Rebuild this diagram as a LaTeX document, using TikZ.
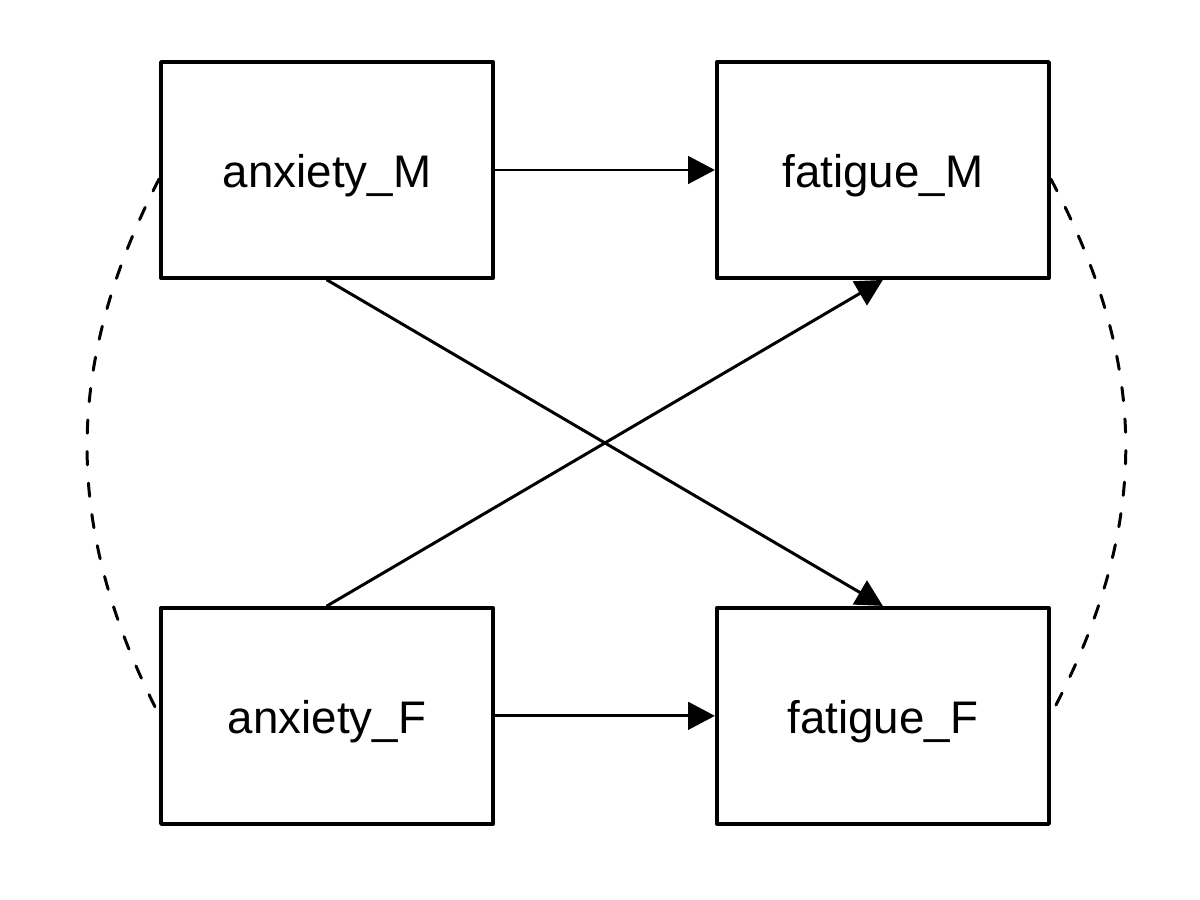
\documentclass[tikz,border=0pt]{standalone}
\usepackage{fontspec}
\setmainfont{Liberation Sans}
\usetikzlibrary{arrows.meta, positioning}

\begin{document}
\begin{tikzpicture}[line cap=round, line join=round, >={Triangle[length=7.6pt,width=7.8pt]},
    varbox/.style={draw, line width=1.1pt, minimum width=3.32cm, minimum height=2.16cm, inner sep=0pt,
        text height=10.2pt, text depth=0pt, font=\fontsize{13}{15}\selectfont},
    regline/.style={->, line width=0.85pt},
    covline/.style={dash pattern=on 3.8pt off 5.2pt, line width=0.85pt}]
    	\useasboundingbox (0,0) rectangle (12,9);
    	
    	\node[varbox] (anxM) at (3.27,7.30) {anxiety\_M};
    	\node[varbox, right=2.2cm of anxM] (fatM) {fatigue\_M};
    	\node[varbox, below=3.26cm of anxM] (anxF) {anxiety\_F};
    	\node[varbox, right=2.2cm of anxF] (fatF) {fatigue\_F};
    	
		\draw [regline] (anxM) -- (fatM);
		\draw [regline] (anxF) -- (fatF);
		\draw [regline] (anxM.south) -- (fatF.north);
		\draw [regline] (anxF.north) -- (fatM.south);
		
		\draw [covline] ([yshift=-0.09cm]anxM.west) .. controls +(-0.96,-1.88) and +(-0.96,1.88) .. ([yshift=0.01cm]anxF.west);
		\draw [covline] ([yshift=-0.09cm]fatM.east) .. controls +(1.0,-1.88) and +(1.0,1.88) .. ([yshift=0.01cm]fatF.east);
    \end{tikzpicture}
\end{document}
